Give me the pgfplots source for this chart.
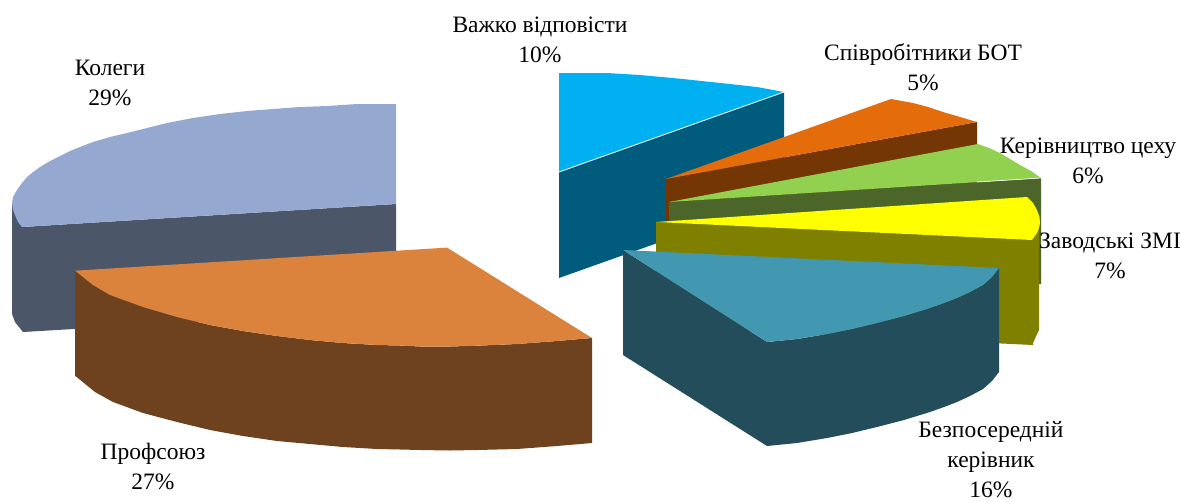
\documentclass[border=0pt]{standalone}
\usepackage{fontspec}
\setmainfont{Liberation Serif}
\usepackage{pgfplots}
\pgfplotsset{compat=1.18}
% slice colours: top face and side face
\definecolor{kolTop}{HTML}{95A9D0}
\definecolor{kolSide}{HTML}{4B5669}
\definecolor{proTop}{HTML}{DB833D}
\definecolor{proSide}{HTML}{6E421E}
\definecolor{bezTop}{HTML}{4198B0}
\definecolor{bezSide}{HTML}{244D5C}
\definecolor{vazTop}{HTML}{00B0F0}
\definecolor{vazSide}{HTML}{005B7D}
\definecolor{botTop}{HTML}{E46C0A}
\definecolor{botSide}{HTML}{733604}
\definecolor{kerTop}{HTML}{92D050}
\definecolor{kerSide}{HTML}{4B6628}
\definecolor{zavTop}{HTML}{FFFF00}
\definecolor{zavSide}{HTML}{808000}
\begin{document}
\begin{tikzpicture}
\path[use as bounding box] (0,0) rectangle (1181pt,501pt);
\begin{axis}[
  at={(0,0)}, anchor=south west,
  width=1181pt, height=501pt, scale only axis,
  axis lines=none, clip=false,
  xmin=0, xmax=1181, ymin=0, ymax=501, y dir=reverse,
  every axis plot/.append style={draw=none},
  nodes={font=\fontsize{23.5}{30}\selectfont, text=black, align=center, inner sep=0pt},
]
% Колеги, 29%
\addplot[fill=kolSide] coordinates {(12,203)(12,314)(15,322)(23,332)(396,310)(396,204)(22,227)};
\addplot[fill=kolTop] coordinates {(396,104)(357,104)(327,106)(300,107)(273,109)(247,111)(220,114)(193,118)(167,123)(147,128)(127,133)(110,137)(93,142)(80,147)(70,151)(60,156)(50,161)(40,167)(33,172)(27,177)(22,183)(17,190)(13,197)(12,203)(13,210)(15,215)(18,222)(22,227)(396,204)};
% Важко відповісти, 10%
\addplot[fill=vazSide] coordinates {(559,172)(784,92)(784,198)(559,278)};
\addplot[fill=vazTop] coordinates {(559,73)(583,73)(607,73)(623,74)(640,75)(662,77)(683,79)(706,81.5)(730,84)(757,87)(784,92)(559,172)};
\addplot[draw=white, line width=0.8pt] coordinates {(559,172)(784,92)};
% Співробітники БОТ, 5%
\addplot[fill=botSide] coordinates {(666,179)(977,122)(977,184)(666,221)};
\addplot[fill=botTop] coordinates {(666,179)(891,99)(902,101)(913,103)(928,107)(943,112)(960,117)(977,122)};
% Керівництво цеху, 6%
\addplot[fill=kerSide] coordinates {(669,202)(1041,178)(1041,284)(669,310)};
\addplot[fill=kerTop] coordinates {(669,202)(978,144)(989,148)(1000,153)(1010,159)(1020,165)(1031,171)(1041,178)};
\addplot[draw=white, line width=0.7pt] coordinates {(977,182)(1041,178)};
% Заводські ЗМІ, 7%
\addplot[fill=zavSide] coordinates {(1033,240)(1039,222)(1039,330)(1032,345)};
\addplot[fill=zavSide] coordinates {(656,222)(1033,240)(1033,345)(656,327)};
\addplot[fill=zavTop] coordinates {(656,222)(1027,197)(1033,203)(1037,210)(1039.5,217)(1040,223)(1039,228)(1037,233)(1032,240)};
% Безпосередній керівник, 16%
\addplot[fill=bezSide] coordinates {(623,250)(767,342)(767,446)(623,355)};
\addplot[fill=bezSide] coordinates {(767,342)(797,339)(827,334)(852,329)(877,323)(904,316)(930,308)(944,303)(957,298)(970,292)(983,285)(992,277)(999,268)(999,372)(992,381)(983,389)(970,396)(957,402)(944,407)(930,412)(904,420)(877,427)(852,433)(827,438)(797,443)(767,446)};
\addplot[fill=bezTop] coordinates {(623,250)(999,268)(992,277)(983,285)(970,292)(957,298)(944,303)(930,308)(904,316)(877,323)(852,329)(827,334)(797,339)(767,342)};
% Профсоюз, 27%
\addplot[fill=proSide] coordinates {(75,270.7)(93,285)(110,295)(143,307)(177,317)(210,325)(243,331)(277,336)(310,340)(343,343)(377,345)(400,345.5)(420,346.5)(450,346.5)(477,345.7)(517,344)(557,341)(592,338)(592,443)(557,446)(517,449)(477,450)(450,450.5)(420,450)(400,449.5)(377,449)(343,447)(310,444)(277,441)(243,436)(210,430)(177,422)(143,413)(113,402)(95,392)(75,375.7)};
\addplot[fill=proTop] coordinates {(75,270.7)(447,247.6)(592,338)(557,341)(517,344)(477,345.7)(450,346.5)(420,346.5)(400,345.5)(377,345)(343,343)(310,340)(277,336)(243,331)(210,325)(177,317)(143,307)(110,295)(93,285)};
% data labels
\node at (axis cs:540,40) {Важко відповісти\\10\%};
\node at (axis cs:110,83) {Колеги\\29\%};
\node at (axis cs:923,67) {Співробітники БОТ\\5\%};
\node at (axis cs:1088,161) {Керівництво цеху\\6\%};
\node at (axis cs:1110,256) {Заводські ЗМІ\\7\%};
\node at (axis cs:153,466) {Профсоюз\\27\%};
\node at (axis cs:991,459.5) {Безпосередній\\керівник\\16\%};
\end{axis}
\end{tikzpicture}
\end{document}
